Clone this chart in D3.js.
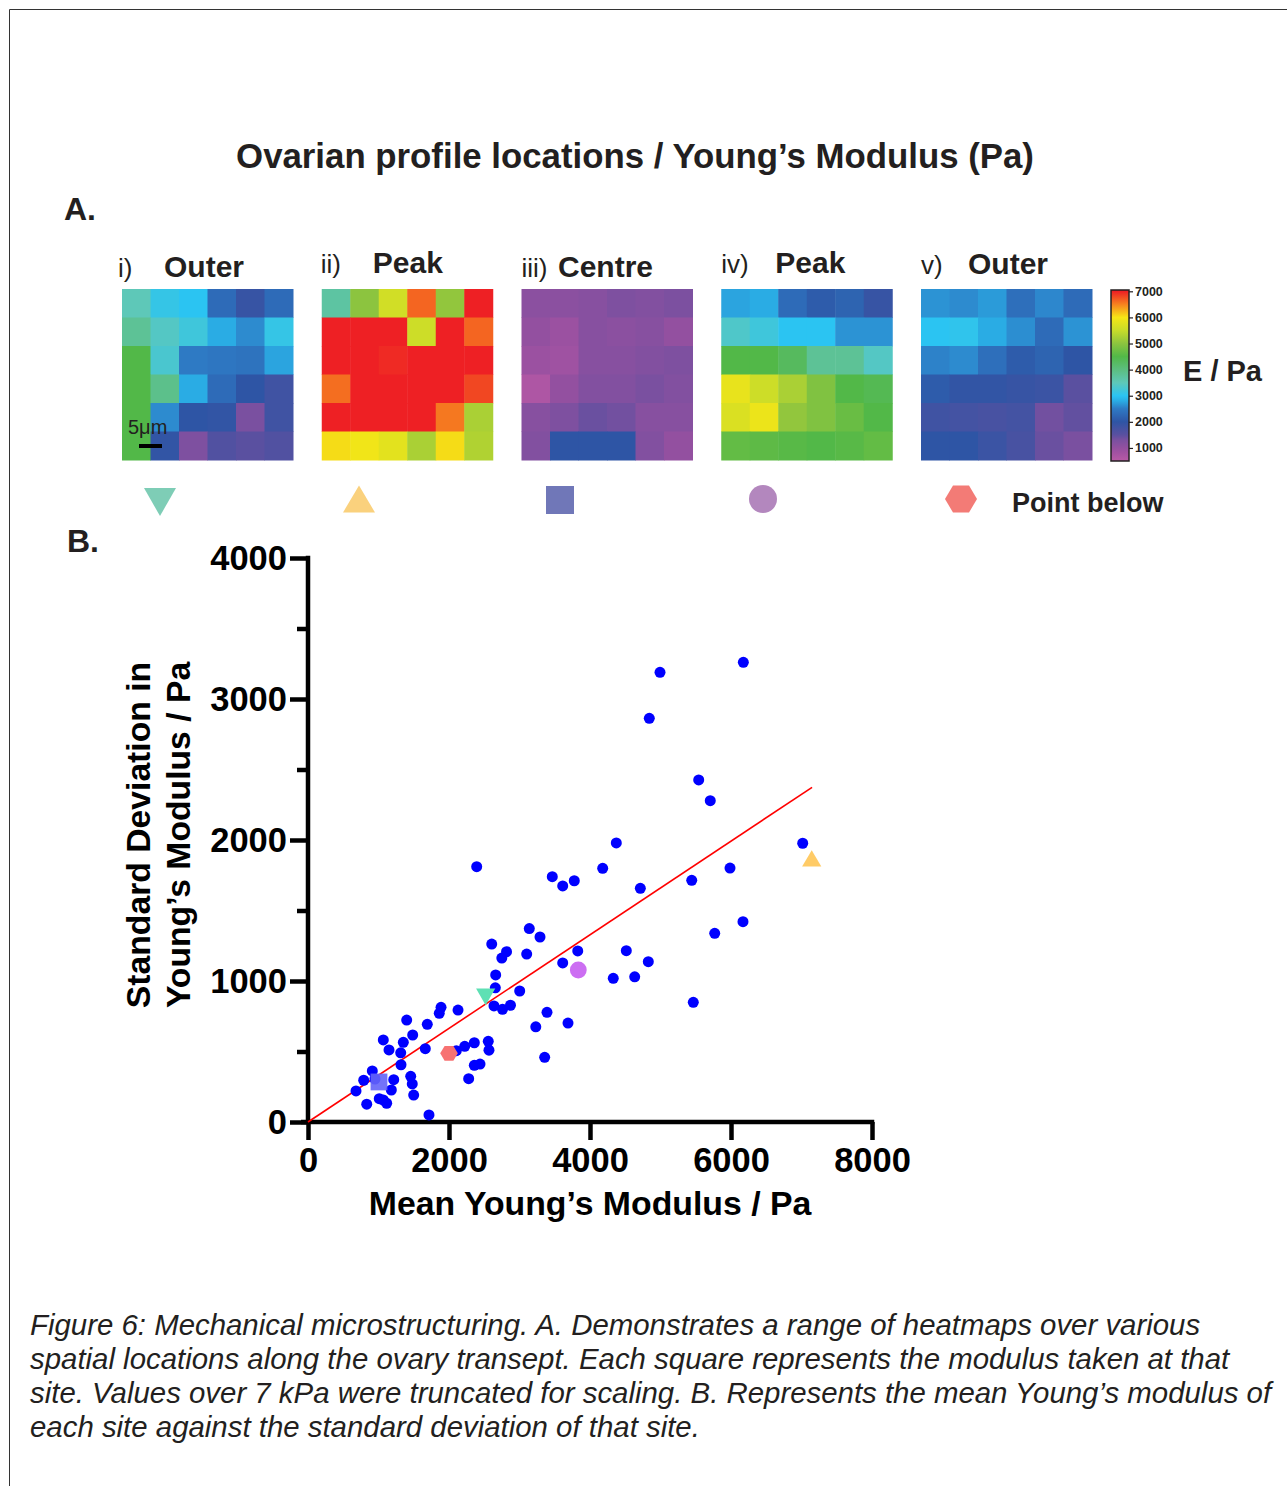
<!DOCTYPE html>
<html>
<head>
<meta charset="utf-8">
<script src="https://cdn.jsdelivr.net/npm/d3@7"></script>
<style>
  body { margin: 0; background: #fff; }
  svg { display: block; font-family: "Liberation Sans", Arial, Helvetica, sans-serif; }
</style>
</head>
<body>
<div id="figure"></div>
<script>
/* ---------- data ---------- */
// heatmap values (Pa), 6 x 6, row by row from the top
const outerI = [
  3500, 3100, 3000, 2300, 1900, 2300,
  3800, 3400, 3200, 2800, 2600, 3100,
  4500, 3300, 2500, 2450, 2400, 2750,
  4500, 3900, 2800, 2300, 2000, 1800,
  4500, 2600, 2000, 1950, 1300, 1800,
  4500, 1950, 1250, 1600, 1500, 1600
];
const peakII = [
  3700, 5000, 5600, 6650, 5050, 7000,
  7000, 7000, 7000, 5550, 7000, 6650,
  7000, 7000, 6950, 7000, 7000, 7000,
  6600, 7000, 7000, 7000, 7000, 6800,
  7000, 7000, 7000, 7000, 6550, 5250,
  6050, 5950, 5800, 5250, 6050, 5300
];
const centreIII = [
  1100, 1100, 1150, 1250, 1200, 1280,
  1000, 900, 1150, 1100, 1150, 1000,
  900, 850, 1150, 1150, 1200, 1250,
  650, 1000, 1200, 1200, 1300, 1200,
  1150, 1250, 1400, 1350, 1150, 1150,
  1200, 2000, 2000, 2000, 1200, 1000
];
const peakIV = [
  2750, 2800, 2300, 2100, 2200, 1900,
  3350, 3200, 3000, 3000, 2650, 2650,
  4500, 4500, 4300, 3800, 3800, 3400,
  5850, 5550, 5250, 4900, 4500, 4400,
  5700, 5900, 5050, 4900, 4700, 4500,
  4650, 4600, 4550, 4500, 4550, 4650
];
const outerV = [
  2650, 2600, 2700, 2350, 2580, 2300,
  3000, 3050, 2800, 2620, 2300, 2650,
  2550, 2600, 2350, 2100, 2200, 2000,
  2100, 1950, 1950, 1900, 1850, 1500,
  1800, 1750, 1700, 1750, 1350, 1450,
  2000, 2000, 1850, 1700, 1400, 1300
];
const panelNumerals = ["i)", "ii)", "iii)", "iv)", "v)"];
const panelNames = ["Outer", "Peak", "Centre", "Peak", "Outer"];

// colour map of the heatmaps (E / Pa)
const colourStops = [500, 800, 1000, 1300, 1500, 2000, 2500, 2800, 3000, 3500, 4000, 4500, 5000, 5500, 6000, 6500, 7000];
const colourHexes = ["#b85aa6", "#a352a2", "#9350a0", "#7a50a0", "#5a50a0", "#2e55a5", "#2e7ac4", "#2aace4",
  "#2bc4f2", "#5ec8b8", "#5cbe80", "#52b848", "#8cc43f", "#c8dc2a", "#f5e616", "#f6821f", "#ee2024"];
const colourTicks = [1000, 2000, 3000, 4000, 5000, 6000, 7000];

// scatter: mean Young's modulus vs standard deviation (Pa), one per site
const meanModulus = [
  6175, 4993, 4841, 5542, 5706, 4373, 7017, 4180, 5986, 5443, 4714, 6170, 5769, 4515, 4827, 4330, 4634, 5465,
  2393, 3465, 3613, 3777, 3139, 3291, 2606, 2816, 2749, 3102, 3826, 3613, 2662, 2657, 3003, 2638, 2759, 2872,
  3390, 3231, 3688, 3357,
  1887, 1862, 2128, 1400, 1692, 1485, 1068, 1352, 1149, 1315, 1664, 1319, 912, 790, 950, 1216, 1457, 1479,
  681, 1182, 1499, 1011, 1068, 1116, 833, 1716, 2104, 2223, 2359, 2557, 2567, 2359, 2440, 2279
];
const sdModulus = [
  3260, 3189, 2863, 2426, 2279, 1979, 1977, 1799, 1801, 1714, 1657, 1421, 1338, 1215, 1137, 1019, 1030, 849,
  1811, 1740, 1674, 1711, 1372, 1312, 1262, 1208, 1163, 1191, 1213, 1128, 1043, 952, 929, 823, 799, 828,
  778, 675, 702, 459,
  813, 771, 794, 723, 693, 617, 582, 565, 511, 491, 520, 406, 362, 296, 305, 300, 324, 270,
  220, 227, 191, 165, 156, 133, 126, 50, 506, 537, 562, 572, 509, 402, 411, 307
];
// highlighted sites (heatmaps i-v and the point below)
const highlightNames = ["i) Outer", "ii) Peak", "iii) Centre", "iv) Peak", "Point below"];
const highlightMean = [2520, 7145, 1007, 3834, 2000];
const highlightSd = [887, 1870, 284, 1078, 487];

// linear fit through the origin
const fitSlope = 0.332;
const fitRange = [0, 7150];

const xTickValues = [0, 2000, 4000, 6000, 8000];
const yTickValues = [0, 500, 1000, 1500, 2000, 2500, 3000, 3500, 4000];

const captionLines = [
  "Figure 6: Mechanical microstructuring. A. Demonstrates a range of heatmaps over various",
  "spatial locations along the ovary transept. Each square represents the modulus taken at that",
  "site. Values over 7 kPa were truncated for scaling. B. Represents the mean Young\u2019s modulus of",
  "each site against the standard deviation of that site."
];

/* ---------- svg ---------- */
const width = 1287, height = 1486;
const ink = "#231f20";
const svg = d3.select("#figure").append("svg")
  .attr("width", width)
  .attr("height", height);

// page frame
svg.append("path")
  .attr("d", `M9.5,${height}V9.5H${width}`)
  .attr("fill", "none")
  .attr("stroke", "#333")
  .attr("stroke-width", 1);

svg.append("text")
  .attr("x", 635).attr("y", 168)
  .attr("text-anchor", "middle")
  .attr("font-size", 34.8).attr("font-weight", "bold").attr("fill", ink)
  .text("Ovarian profile locations / Young\u2019s Modulus (Pa)");

svg.append("text").attr("x", 64).attr("y", 220)
  .attr("font-size", 32).attr("font-weight", "bold").attr("fill", ink).text("A.");
svg.append("text").attr("x", 67).attr("y", 552)
  .attr("font-size", 32).attr("font-weight", "bold").attr("fill", ink).text("B.");

/* ---------- heatmaps ---------- */
const colour = d3.scaleLinear().domain(colourStops).range(colourHexes).clamp(true);
const grids = [outerI, peakII, centreIII, peakIV, outerV];
const panelSize = 171;
const panelX = d3.scaleLinear().domain([0, 4]).range([122, 921]);
const cell = d3.scaleBand().domain(d3.range(6)).range([0, panelSize]);
const numeralDx = [-4, -1, 0, 0, 0];
const nameDx = [42, 51, 36.5, 54, 47];
const nameBaseline = [277, 273, 277, 273, 274];

grids.forEach((grid, p) => {
  const g = svg.append("g").attr("transform", `translate(${panelX(p)},289)`);
  g.selectAll("rect")
    .data(grid)
    .enter()
    .append("rect")
    .attr("x", (d, i) => cell(i % 6))
    .attr("y", (d, i) => cell(Math.floor(i / 6)))
    .attr("width", cell.bandwidth() + 0.5)
    .attr("height", cell.bandwidth() + 0.5)
    .attr("fill", (d) => colour(d));

  svg.append("text")
    .attr("x", panelX(p) + numeralDx[p]).attr("y", nameBaseline[p])
    .attr("font-size", 26).attr("fill", ink)
    .text(panelNumerals[p]);
  svg.append("text")
    .attr("x", panelX(p) + nameDx[p]).attr("y", nameBaseline[p])
    .attr("font-size", 30).attr("font-weight", "bold").attr("fill", ink)
    .text(panelNames[p]);
});

/* scale bar on the first heatmap */
svg.append("text").attr("x", 128).attr("y", 434)
  .attr("font-size", 20).attr("fill", ink).text("5\u03bcm");
svg.append("line")
  .attr("x1", 139).attr("x2", 162).attr("y1", 446).attr("y2", 446)
  .attr("stroke", "#000").attr("stroke-width", 4);

/* colour bar */
const barY = d3.scaleLinear().domain([500, 7050]).range([461, 290]);
const grad = svg.append("defs").append("linearGradient")
  .attr("id", "eGrad").attr("x1", 0).attr("x2", 0).attr("y1", 1).attr("y2", 0);
grad.selectAll("stop")
  .data(colourStops)
  .enter()
  .append("stop")
  .attr("offset", (d) => (d - 500) / (7050 - 500))
  .attr("stop-color", (d) => colour(d));
svg.append("rect")
  .attr("x", 1111).attr("y", barY(7050)).attr("width", 18)
  .attr("height", barY(500) - barY(7050))
  .attr("fill", "url(#eGrad)")
  .attr("stroke", ink).attr("stroke-width", 1.5);
svg.append("g")
  .attr("transform", "translate(1129,0)")
  .call(d3.axisRight(barY).tickValues(colourTicks).tickSize(4).tickSizeOuter(0).tickPadding(2)
    .tickFormat(d3.format("d")))
  .call((g) => g.select(".domain").remove())
  .call((g) => g.selectAll("line").attr("stroke", ink).attr("stroke-width", 1.2))
  .call((g) => g.selectAll("text")
    .attr("font-family", "Liberation Sans, Arial, sans-serif")
    .attr("font-size", 12.5).attr("font-weight", "bold").attr("fill", ink));
svg.append("text").attr("x", 1183).attr("y", 381)
  .attr("font-size", 29).attr("font-weight", "bold").attr("fill", ink).text("E / Pa");

/* ---------- marker shapes ---------- */
function hexagonPath(w, h) {
  const pts = [[-w / 2, 0], [-w / 4, -h / 2], [w / 4, -h / 2], [w / 2, 0], [w / 4, h / 2], [-w / 4, h / 2]];
  return d3.line()(pts) + "Z";
}
function trianglePath(w, h, down) {
  const s = down ? -1 : 1;
  return d3.line()([[-w / 2, s * h / 2], [w / 2, s * h / 2], [0, -s * h / 2]]) + "Z";
}
function markerPath(k, scale) {
  if (k === 0) return trianglePath(32 * scale, 28 * scale, true);
  if (k === 1) return trianglePath(32 * scale, 27 * scale, false);
  if (k === 2) return d3.line()([[-14, -14], [14, -14], [14, 14], [-14, 14]].map((p) => [p[0] * scale, p[1] * scale])) + "Z";
  if (k === 3) return d3.symbol(d3.symbolCircle, Math.PI * 14 * 14 * scale * scale)();
  return hexagonPath(32 * scale, 27 * scale);
}

/* legend row */
const legendX = [160, 359, 560, 763, 961];
const legendY = [502, 499, 500, 499, 499];
const legendColours = ["#7ecdb6", "#fad17d", "#7077b8", "#b387be", "#f37b76"];
svg.append("g")
  .selectAll("path")
  .data(highlightNames)
  .enter()
  .append("path")
  .attr("transform", (d, i) => `translate(${legendX[i]},${legendY[i]})`)
  .attr("d", (d, i) => markerPath(i, 1))
  .attr("fill", (d, i) => legendColours[i]);
svg.append("text").attr("x", 1012).attr("y", 512)
  .attr("font-size", 27).attr("font-weight", "bold").attr("fill", ink).text("Point below");

/* ---------- scatter plot ---------- */
const x = d3.scaleLinear().domain([0, 8000]).range([308, 872]);
const y = d3.scaleLinear().domain([0, 4000]).range([1122, 558]);

const axisW = 4.5;
svg.append("g")
  .attr("transform", "translate(0,1122)")
  .call(d3.axisBottom(x).tickValues(xTickValues).tickSize(18).tickSizeOuter(0).tickPadding(8).tickFormat(d3.format("d")))
  .call((g) => g.select(".domain").attr("stroke", "#000").attr("stroke-width", axisW)
    .attr("d", `M${x(0) - 7},0H${x(8000) + axisW / 2}`))
  .call((g) => g.selectAll(".tick line").attr("stroke", "#000").attr("stroke-width", axisW))
  .call((g) => g.selectAll(".tick text")
    .attr("font-family", "Liberation Sans, Arial, sans-serif")
    .attr("font-size", 34.5).attr("font-weight", "bold").attr("fill", "#000"));

svg.append("g")
  .attr("transform", "translate(308,0)")
  .call(d3.axisLeft(y).tickValues(yTickValues).tickSizeOuter(0).tickPadding(3)
    .tickFormat((d) => (d % 1000 === 0 ? d3.format("d")(d) : "")))
  .call((g) => g.select(".domain").attr("stroke", "#000").attr("stroke-width", axisW)
    .attr("d", `M0,${y(0)}V${y(4000) - axisW / 2}`))
  .call((g) => g.selectAll(".tick line").attr("stroke", "#000").attr("stroke-width", axisW)
    .attr("x2", (d) => (d % 1000 === 0 ? -18 : -11)))
  .call((g) => g.selectAll(".tick text")
    .attr("x", -21)
    .attr("font-family", "Liberation Sans, Arial, sans-serif")
    .attr("font-size", 34.5).attr("font-weight", "bold").attr("fill", "#000"));

svg.append("text")
  .attr("x", 590).attr("y", 1215)
  .attr("text-anchor", "middle")
  .attr("font-size", 33.8).attr("font-weight", "bold").attr("fill", "#000")
  .text("Mean Young\u2019s Modulus / Pa");
const yLabel = svg.append("text")
  .attr("transform", "translate(0,835) rotate(-90)")
  .attr("text-anchor", "middle")
  .attr("font-size", 33.7).attr("font-weight", "bold").attr("fill", "#000");
yLabel.append("tspan").attr("x", 0).attr("y", 150).text("Standard Deviation in");
yLabel.append("tspan").attr("x", 0).attr("y", 190).text("Young\u2019s Modulus / Pa");

/* fit line */
svg.append("path")
  .attr("d", d3.line().x((d) => x(d)).y((d) => y(d * fitSlope))(fitRange))
  .attr("stroke", "#ff0000").attr("stroke-width", 1.6).attr("fill", "none");

/* sites */
svg.append("g")
  .selectAll("circle")
  .data(meanModulus.map((m, i) => ({ mean: m, sd: sdModulus[i] })))
  .enter()
  .append("circle")
  .attr("cx", (d) => x(d.mean))
  .attr("cy", (d) => y(d.sd))
  .attr("r", 5.5)
  .attr("fill", "#0000ff");

/* highlighted sites */
const highlightColours = ["#5ee0b4", "#ffcb66", "#6464f8", "#cc6ef2", "#f77272"];
const highlightOpacity = [1, 1, 0.9, 1, 1];
svg.append("g")
  .selectAll("path")
  .data(highlightNames)
  .enter()
  .append("path")
  .attr("transform", (d, i) => `translate(${x(highlightMean[i])},${y(highlightSd[i])})`)
  .attr("d", (d, i) => markerPath(i, i === 4 ? 0.55 : 0.6))
  .attr("fill", (d, i) => highlightColours[i])
  .attr("opacity", (d, i) => highlightOpacity[i]);

/* ---------- caption ---------- */
svg.append("g")
  .selectAll("text")
  .data(captionLines)
  .enter()
  .append("text")
  .attr("x", 30)
  .attr("y", (d, i) => 1335 + i * 34)
  .attr("font-size", 29.4).attr("font-style", "italic").attr("fill", ink)
  .text((d) => d);
</script>
</body>
</html>
